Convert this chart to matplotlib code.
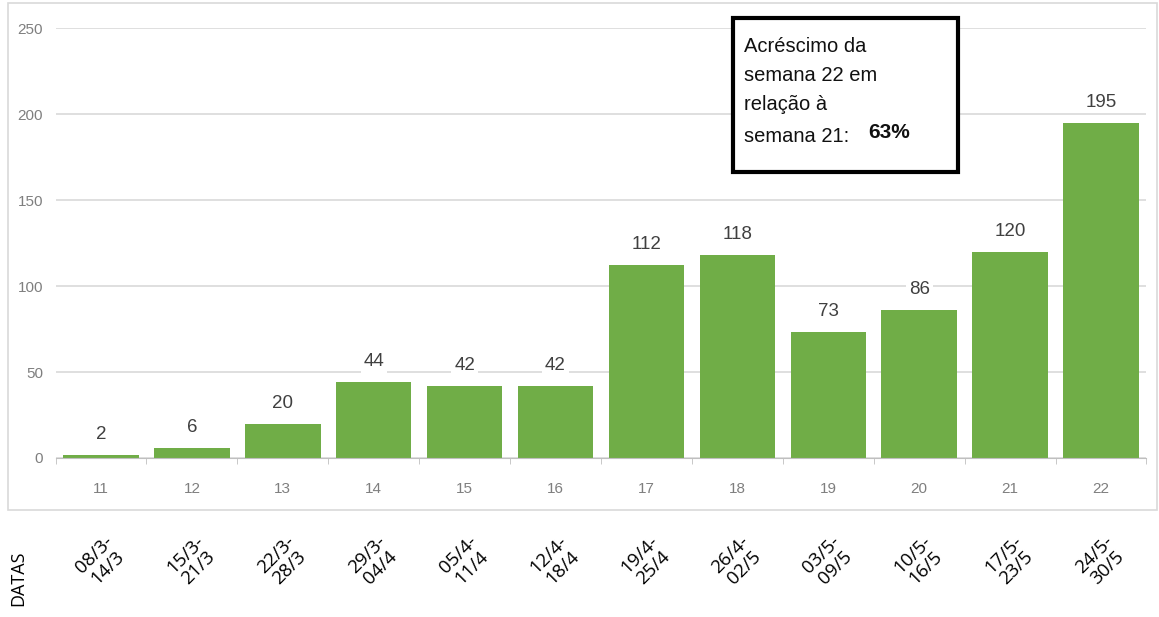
import matplotlib.pyplot as plt
import matplotlib.transforms as mtransforms
from matplotlib.patches import Rectangle
import numpy as np

# weekly counts by epidemiological week
semanas = ['11', '12', '13', '14', '15', '16', '17', '18', '19', '20', '21', '22']
casos = [2, 6, 20, 44, 42, 42, 112, 118, 73, 86, 120, 195]
datas = ['08/3-\n14/3', '15/3-\n21/3', '22/3-\n28/3', '29/3-\n04/4', '05/4-\n11/4',
         '12/4-\n18/4', '19/4-\n25/4', '26/4-\n02/5', '03/5-\n09/5', '10/5-\n16/5',
         '17/5-\n23/5', '24/5-\n30/5']

plt.rcParams['font.family'] = ['Liberation Sans', 'DejaVu Sans']

fig = plt.figure(figsize=(11.59, 6.17), dpi=100)
ax = fig.add_axes([0.0479, 0.2577, 0.9413, 0.6969])

x = np.arange(len(semanas))
ax.bar(x, casos, width=0.83, color='#70ad47', zorder=2)

for xi, v in zip(x, casos):
    ax.text(xi, v + 7, str(v), ha='center', va='bottom', fontsize=13.5,
            color='#404040', zorder=3,
            bbox=dict(boxstyle='square,pad=0.15', fc='white', ec='none'))

ax.set_xlim(-0.5, len(semanas) - 0.5)
ax.set_ylim(0, 250)
ax.set_yticks([0, 50, 100, 150, 200, 250])
ax.yaxis.grid(True, color='#d9d9d9', lw=1.2, zorder=0)
ax.set_axisbelow(True)

ax.set_xticks(x)
ax.set_xticklabels(semanas)
ax.set_xticks(np.arange(len(semanas) + 1) - 0.5, minor=True)
ax.tick_params(axis='x', which='major', length=0, pad=17, labelsize=11, labelcolor='#7f7f7f')
ax.tick_params(axis='x', which='minor', length=4, color='#bfbfbf', direction='out')
ax.tick_params(axis='y', length=0, pad=9, labelsize=11, labelcolor='#7f7f7f')

for s in ['top', 'right', 'left']:
    ax.spines[s].set_visible(False)
ax.spines['bottom'].set_color('#bfbfbf')

# outer chart frame
fig.patches.append(Rectangle((0.0069, 0.1734), 0.9914, 0.8217, transform=fig.transFigure,
                             fill=False, ec='#d9d9d9', lw=1.2))

# date ranges under each week
trans = mtransforms.blended_transform_factory(ax.transData, fig.transFigure)
for xi, d in zip(x, datas):
    ax.text(xi, 0.09, d, transform=trans, rotation=45, ha='center', va='center',
            fontsize=13.5, color='black', linespacing=1.05, rotation_mode='anchor',
            family=['Open Sans', 'DejaVu Sans'])
fig.text(0.0155, 0.063, 'DATAS', rotation=90, ha='center', va='center', fontsize=13,
         family=['Open Sans', 'DejaVu Sans'])

# annotation box
fig.patches.append(Rectangle((0.6324, 0.7212), 0.1941, 0.2496, transform=fig.transFigure,
                             fill=True, fc='white', ec='black', lw=3, zorder=5))
linhas = [('Acréscimo da', 0.925), ('semana 22 em', 0.878), ('relação à', 0.831),
          ('semana 21:', 0.778)]
for t, yy in linhas:
    fig.text(0.6418, yy, t, ha='left', va='center', fontsize=14.5, color='#111111', zorder=6)
fig.text(0.749, 0.786, '63%', ha='left', va='center', fontsize=15, fontweight='bold',
         color='#111111', zorder=6)

fig.savefig('out.png', dpi=100)
